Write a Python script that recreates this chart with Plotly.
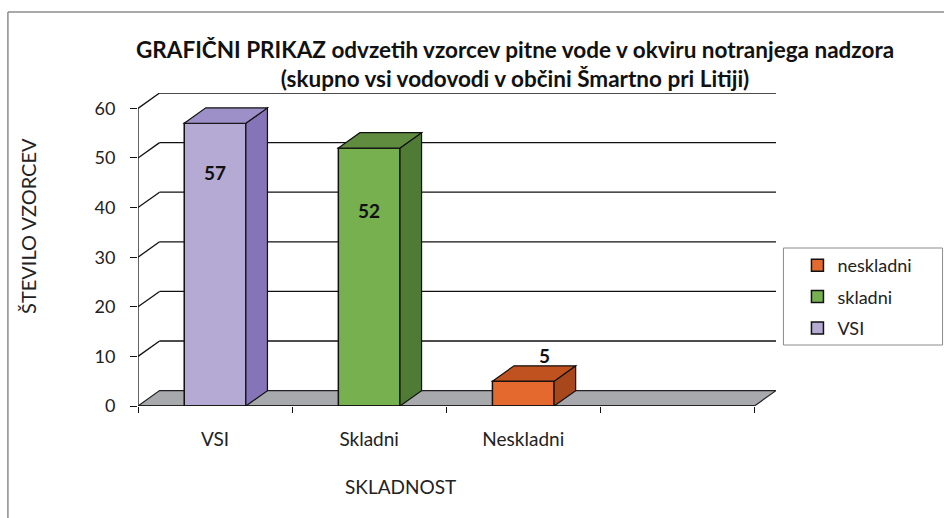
import plotly.graph_objects as go

categories = ["VSI", "Skladni", "Neskladni"]
values = [57, 52, 5]
legend_names = ["VSI", "skladni", "neskladni"]
y_ticks = [0, 10, 20, 30, 40, 50, 60]

front_colors = ["#b4aad4", "#76b04f", "#e4692f"]
side_colors = ["#8674b8", "#4f7b35", "#a8461c"]
top_colors = ["#9d8fc7", "#5f8c3f", "#c0521f"]
label_yshift = [-49, -62, 10]

n_slots = 4
bar_w = 0.4
DX = 0.14   # depth in x units
DY = 3.1    # depth in y units
ymax = 60
W, H = 944, 518
L, B, T = 138, 112, 93
x_range = [0, n_slots + DX]
y_range = [0, ymax + DY]
plot_w = (n_slots + DX) * 154
R = W - L - plot_w
plot_h = H - T - B

def px_to_paper_x(px):
    return (px - L) / plot_w

def px_to_paper_y(py):
    return (H - B - py) / plot_h

fig = go.Figure()
centers = [i + 0.5 for i in range(len(categories))]
# legend lists the last series first, so add in reverse
for c, v, name, col in reversed(list(zip(centers, values, legend_names, front_colors))):
    fig.add_trace(go.Bar(
        x=[c], y=[v], width=bar_w, name=name, legendgroup=name,
        marker=dict(color=col, line=dict(color="#111111", width=1.5)),
        hoverinfo="skip",
    ))

shapes = []
# floor
shapes.append(dict(type="path", xref="x", yref="y", layer="below",
                   path=f"M0,0 L{n_slots},0 L{n_slots+DX},{DY} L{DX},{DY} Z",
                   fillcolor="#a7a9ac", line=dict(color="#222222", width=1.2)))
# gridlines on back wall with diagonal from front axis
for t in y_ticks[1:]:
    shapes.append(dict(type="line", xref="x", yref="y", layer="below",
                       x0=0, y0=t, x1=DX, y1=t + DY,
                       line=dict(color="#111111", width=1.3)))
    shapes.append(dict(type="line", xref="x", yref="y", layer="below",
                       x0=DX, y0=t + DY, x1=n_slots + DX, y1=t + DY,
                       line=dict(color="#111111", width=1.3)))
# front y axis line
shapes.append(dict(type="line", xref="x", yref="y", x0=0, y0=0, x1=0, y1=ymax,
                   line=dict(color="#111111", width=1.3)))
# front x axis edge
shapes.append(dict(type="line", xref="x", yref="y", x0=0, y0=0, x1=n_slots, y1=0,
                   line=dict(color="#111111", width=1.3)))
# 3D faces of bars
for c, v, sc, tc in zip(centers, values, side_colors, top_colors):
    xl, xr = c - bar_w / 2, c + bar_w / 2
    shapes.append(dict(type="path", xref="x", yref="y",
                       path=f"M{xr},0 L{xr+DX},{DY} L{xr+DX},{v+DY} L{xr},{v} Z",
                       fillcolor=sc, line=dict(color="#111111", width=1.2)))
    shapes.append(dict(type="path", xref="x", yref="y",
                       path=f"M{xl},{v} L{xl+DX},{v+DY} L{xr+DX},{v+DY} L{xr},{v} Z",
                       fillcolor=tc, line=dict(color="#111111", width=1.2)))
# legend box
shapes.append(dict(type="rect", xref="paper", yref="paper",
                   x0=px_to_paper_x(783), x1=px_to_paper_x(942),
                   y0=px_to_paper_y(345), y1=px_to_paper_y(248),
                   line=dict(color="#8c8c8c", width=1)))
# outer chart border
shapes.append(dict(type="line", xref="paper", yref="paper",
                   x0=px_to_paper_x(8), x1=px_to_paper_x(8),
                   y0=px_to_paper_y(530), y1=px_to_paper_y(12),
                   line=dict(color="#8c8c8c", width=1.5)))
shapes.append(dict(type="line", xref="paper", yref="paper",
                   x0=px_to_paper_x(8), x1=px_to_paper_x(960),
                   y0=px_to_paper_y(12), y1=px_to_paper_y(12),
                   line=dict(color="#8c8c8c", width=1.5)))

annotations = []
label_font = dict(family="Lato, Open Sans, sans-serif", size=19, color="#111111")
for c, v, ys in zip(centers, values, label_yshift):
    if v > 20:
        annotations.append(dict(x=c, y=v, xref="x", yref="y", text=f"<b>{v}</b>",
                                showarrow=False, yshift=ys, font=label_font))
    else:
        annotations.append(dict(x=c + DX, y=v + DY, xref="x", yref="y", text=f"<b>{v}</b>",
                                showarrow=False, yshift=ys, font=label_font))

annotations.append(dict(x=px_to_paper_x(28), y=px_to_paper_y(226), xref="paper", yref="paper",
                        xanchor="center", yanchor="middle",
                        text="ŠTEVILO VZORCEV", textangle=-90, showarrow=False,
                        font=dict(family="Lato, sans-serif", size=20, color="#222222")))
annotations.append(dict(x=px_to_paper_x(400), y=px_to_paper_y(486), xref="paper", yref="paper",
                        xanchor="center", yanchor="middle",
                        text="SKLADNOST", showarrow=False,
                        font=dict(family="Lato, sans-serif", size=19, color="#222222")))
annotations.append(dict(x=px_to_paper_x(515), y=px_to_paper_y(64), xref="paper", yref="paper",
                        xanchor="center", yanchor="middle",
                        text="<b>GRAFIČNI PRIKAZ odvzetih vzorcev pitne vode v okviru notranjega nadzora</b><br>"
                             "<b>(skupno vsi vodovodi v občini Šmartno pri Litiji)</b>",
                        showarrow=False,
                        font=dict(family="Lato, sans-serif", size=22.5, color="#111111")))

fig.update_layout(
    width=W, height=H,
    margin=dict(l=L, r=R, t=T, b=B, pad=0, autoexpand=False),
    paper_bgcolor="white", plot_bgcolor="white",
    showlegend=True,
    barmode="overlay",
    legend=dict(x=px_to_paper_x(797), y=px_to_paper_y(247), xanchor="left", yanchor="top",
                traceorder="grouped", tracegroupgap=5,
                font=dict(family="Lato, sans-serif", size=18, color="#222222"),
                bgcolor="rgba(0,0,0,0)", borderwidth=0),
    xaxis=dict(range=x_range, tickvals=centers, ticktext=categories, ticks="",
               showgrid=False, zeroline=False, showline=False,
               ticklabelstandoff=20,
               tickfont=dict(family="Lato, sans-serif", size=19, color="#222222"),
               minor=dict(tickmode="linear", tick0=0, dtick=1, ticks="outside", ticklen=6,
                          tickcolor="#111111", tickwidth=1, showgrid=False)),
    yaxis=dict(range=y_range, tickvals=y_ticks, ticks="outside", ticklen=7,
               tickcolor="#111111", showgrid=False, zeroline=False, showline=False,
               ticklabelstandoff=11,
               tickfont=dict(family="Lato, sans-serif", size=18, color="#222222")),
    shapes=shapes, annotations=annotations,
)

fig.write_html("out.html", config={"displayModeBar": False},
               post_script="document.body.style.margin='0px';")
